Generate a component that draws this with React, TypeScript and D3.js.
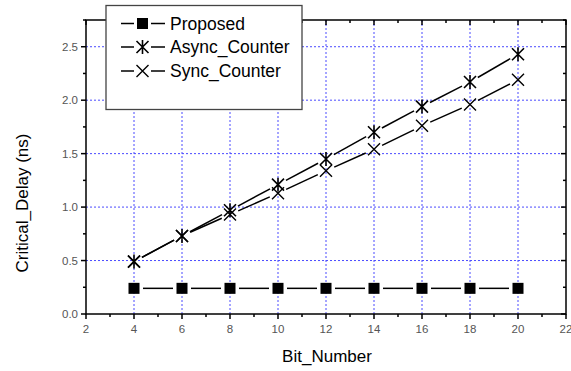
import React, { useEffect, useRef } from "react"
import * as d3 from "d3"

const bits = [4, 6, 8, 10, 12, 14, 16, 18, 20]
const proposed = [0.24, 0.24, 0.24, 0.24, 0.24, 0.24, 0.24, 0.24, 0.24]
const asyncCounter = [0.49, 0.73, 0.97, 1.21, 1.45, 1.7, 1.94, 2.17, 2.43]
const syncCounter = [0.49, 0.73, 0.93, 1.13, 1.34, 1.54, 1.76, 1.96, 2.19]
const seriesNames = ["Proposed", "Async_Counter", "Sync_Counter"]
const xTicks = [2, 4, 6, 8, 10, 12, 14, 16, 18, 20, 22]
const yTicks = [0, 0.5, 1.0, 1.5, 2.0, 2.5]

const W = 571
const H = 371
const FONT = "'Liberation Sans', Arial, sans-serif"

function drawMarker(g: any, kind: string, cx: number, cy: number) {
    if (kind === "square") {
        g.append("rect")
            .attr("x", cx - 5.5).attr("y", cy - 5.5)
            .attr("width", 11).attr("height", 11)
            .attr("fill", "#000")
    } else if (kind === "star") {
        const r = 6
        const p = `M${cx - r},${cy - r}L${cx + r},${cy + r}M${cx - r},${cy + r}L${cx + r},${cy - r}M${cx},${cy - r - 1}L${cx},${cy + r + 1}`
        g.append("path").attr("d", p).attr("stroke", "#000").attr("stroke-width", 1.6).attr("fill", "none")
    } else {
        const r = 6
        const p = `M${cx - r},${cy - r}L${cx + r},${cy + r}M${cx - r},${cy + r}L${cx + r},${cy - r}`
        g.append("path").attr("d", p).attr("stroke", "#000").attr("stroke-width", 1.4).attr("fill", "none")
    }
}

function gappedLine(g: any, pts: [number, number][], gap: number) {
    for (let i = 0; i < pts.length - 1; i++) {
        const [x1, y1] = pts[i]
        const [x2, y2] = pts[i + 1]
        const len = Math.hypot(x2 - x1, y2 - y1)
        const ux = (x2 - x1) / len
        const uy = (y2 - y1) / len
        g.append("line")
            .attr("x1", x1 + ux * gap).attr("y1", y1 + uy * gap)
            .attr("x2", x2 - ux * gap).attr("y2", y2 - uy * gap)
            .attr("stroke", "#000").attr("stroke-width", 1.5)
    }
}

function Chart() {
    const ref = useRef<SVGSVGElement>(null)

    useEffect(() => {
        const svg = d3.select(ref.current)
        svg.selectAll("*").remove()
        svg.append("rect").attr("width", W).attr("height", H).attr("fill", "#fff")

        const left = 86, right = 566, top = 20, bottom = 314
        const x = d3.scaleLinear().domain([2, 22]).range([left, right])
        const y = d3.scaleLinear().domain([0, 2.75]).range([bottom, top])

        // grid
        const grid = svg.append("g").attr("stroke", "#4a4aff").attr("stroke-width", 1).attr("stroke-dasharray", "2,2")
        xTicks.slice(1, -1).forEach(t => {
            grid.append("line").attr("x1", x(t)).attr("x2", x(t)).attr("y1", top).attr("y2", bottom)
        })
        yTicks.slice(1).forEach(t => {
            grid.append("line").attr("x1", left).attr("x2", right).attr("y1", y(t)).attr("y2", y(t))
        })

        // axes ticks
        const axes = svg.append("g").attr("stroke", "#000").attr("stroke-width", 1.5)
        d3.range(2, 22.01, 1).forEach(t => {
            const major = t % 2 === 0
            const len = major ? 5 : 3
            axes.append("line").attr("x1", x(t)).attr("x2", x(t)).attr("y1", bottom).attr("y2", bottom + len)
            axes.append("line").attr("x1", x(t)).attr("x2", x(t)).attr("y1", top).attr("y2", top + len)
        })
        d3.range(0, 2.751, 0.25).forEach(t => {
            const major = Math.abs(t * 2 - Math.round(t * 2)) < 1e-6
            const len = major ? 5 : 3
            axes.append("line").attr("x1", left - len).attr("x2", left).attr("y1", y(t)).attr("y2", y(t))
            axes.append("line").attr("x1", right - len).attr("x2", right).attr("y1", y(t)).attr("y2", y(t))
        })
        axes.append("rect")
            .attr("x", left).attr("y", top)
            .attr("width", right - left).attr("height", bottom - top)
            .attr("fill", "none")

        // tick labels
        xTicks.forEach(t => {
            svg.append("text").attr("x", x(t)).attr("y", bottom + 19)
                .attr("text-anchor", "middle").attr("font-family", FONT).attr("font-size", 11.5)
                .attr("fill", "#555").text(t)
        })
        yTicks.forEach(t => {
            svg.append("text").attr("x", left - 8).attr("y", y(t) + 4)
                .attr("text-anchor", "end").attr("font-family", FONT).attr("font-size", 11.5)
                .attr("fill", "#555").text(t.toFixed(1))
        })

        // axis titles
        svg.append("text").attr("x", 327).attr("y", 362)
            .attr("text-anchor", "middle").attr("font-family", FONT).attr("font-size", 17)
            .attr("fill", "#000").text("Bit_Number")
        svg.append("text").attr("transform", "translate(28,203) rotate(-90)")
            .attr("text-anchor", "middle").attr("font-family", FONT).attr("font-size", 17)
            .attr("fill", "#000").text("Critical_Delay (ns)")

        // series
        const series = [
            { values: proposed, marker: "square", gap: 9 },
            { values: asyncCounter, marker: "star", gap: 9 },
            { values: syncCounter, marker: "cross", gap: 9 },
        ]
        series.forEach(s => {
            const g = svg.append("g")
            const pts: [number, number][] = bits.map((b, i) => [x(b), y(s.values[i])])
            gappedLine(g, pts, s.gap)
            pts.forEach(p => drawMarker(g, s.marker, p[0], p[1]))
        })

        // legend
        const lg = svg.append("g")
        lg.append("rect").attr("x", 106).attr("y", 5.5).attr("width", 196).attr("height", 104)
            .attr("fill", "#fff").attr("stroke", "#444").attr("stroke-width", 1.3)
        const rows = [23.5, 47, 71]
        series.forEach((s, i) => {
            const cy = rows[i]
            lg.append("line").attr("x1", 121).attr("x2", 134).attr("y1", cy).attr("y2", cy)
                .attr("stroke", "#000").attr("stroke-width", 1.5)
            lg.append("line").attr("x1", 151).attr("x2", 165).attr("y1", cy).attr("y2", cy)
                .attr("stroke", "#000").attr("stroke-width", 1.5)
            drawMarker(lg, s.marker, 142.5, cy)
            lg.append("text").attr("x", 170).attr("y", cy + 6)
                .attr("font-family", FONT).attr("font-size", 17.5).attr("fill", "#000")
                .text(seriesNames[i])
        })
    }, [])

    return <svg ref={ref} width={W} height={H} style={{ position: "absolute", left: 0, top: 0 }} />
}

export default function App() {
    return <Chart />
}
